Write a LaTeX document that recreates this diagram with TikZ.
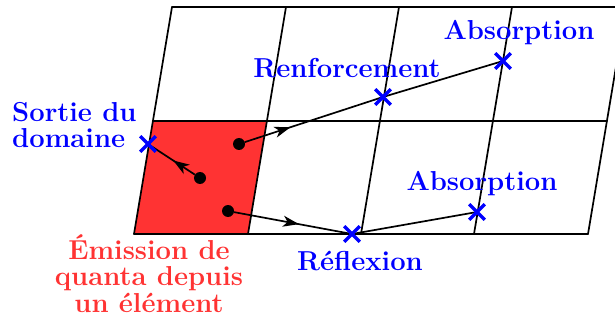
\documentclass[tikz,border=0pt]{standalone}
\usetikzlibrary{arrows.meta,decorations.markings,shapes.misc}
\definecolor{myblue}{RGB}{0,0,255}
\definecolor{myred}{RGB}{255,51,51}
\begin{document}
\begin{tikzpicture}[x=1pt,y=-1pt,
  gridline/.style={line width=1.7pt, line join=round, line cap=round},
  hit/.style={cross out, draw=myblue, line width=3.2pt, minimum size=12.5pt, inner sep=0pt},
  dotn/.style={circle, fill=black, minimum size=12pt, inner sep=0pt},
  ray/.style={line width=1.7pt},
  arrowat/.style={postaction={decorate}, decoration={markings, mark=at position #1 with {\arrow{Stealth[length=16pt,width=11pt,inset=4.5pt]}}}},
  lbl/.style={font=\fontsize{27.4}{26.5}\selectfont\bfseries, text=myblue, inner sep=0pt}]
\useasboundingbox (0,0) rectangle (615,323);
% red emitting cell
\fill[myred] (134,234) -- (248,234) -- (267,121) -- (153,121) -- cycle;
% grid
\draw[gridline] (134,234) -- (588,234);
\draw[gridline] (153,121) -- (607,121);
\draw[gridline] (172,7) -- (626,7);
\draw[gridline] (134,234) -- (172,7);
\draw[gridline] (248,234) -- (286,7);
\draw[gridline] (361,234) -- (399,7);
\draw[gridline] (474,234) -- (512,7);
\draw[gridline] (588,234) -- (626,7);
% dots
\node[dotn] (d1) at (239,144) {};
\node[dotn] (d2) at (200,178) {};
\node[dotn] (d3) at (228,211) {};
% hit points
\coordinate (c1) at (148,144);
\coordinate (c2) at (383,97);
\coordinate (c3) at (503,61);
\coordinate (c4) at (352,234);
\coordinate (c5) at (477,212);
% rays
\draw[ray, arrowat=0.46] (d2) -- (c1);
\draw[ray, arrowat=0.33] (d1) -- (c2);
\draw[ray] (c2) -- (c3);
\draw[ray, arrowat=0.55] (d3) -- (c4);
\draw[ray] (c4) -- (c5);
% crosses
\node[hit] (x1) at (c1) {};
\node[hit] (x2) at (c2) {};
\node[hit] (x3) at (c3) {};
\node[hit] (x4) at (c4) {};
\node[hit] (x5) at (c5) {};
% labels
\node[lbl, anchor=base west, align=left] (t1) at (12,148) {Sortie du\\domaine};
\node[lbl, text=myred, anchor=base, align=center] (t2) at (149,312) {Émission de\\quanta depuis\\un élément};
\node[lbl, anchor=base] (t3) at (360,270) {Réflexion};
\node[lbl, anchor=base] (t4) at (347,78) {Renforcement};
\node[lbl, anchor=base] (t5) at (519,40) {Absorption};
\node[lbl, anchor=base] (t6) at (482,190) {Absorption};
\end{tikzpicture}
\end{document}
